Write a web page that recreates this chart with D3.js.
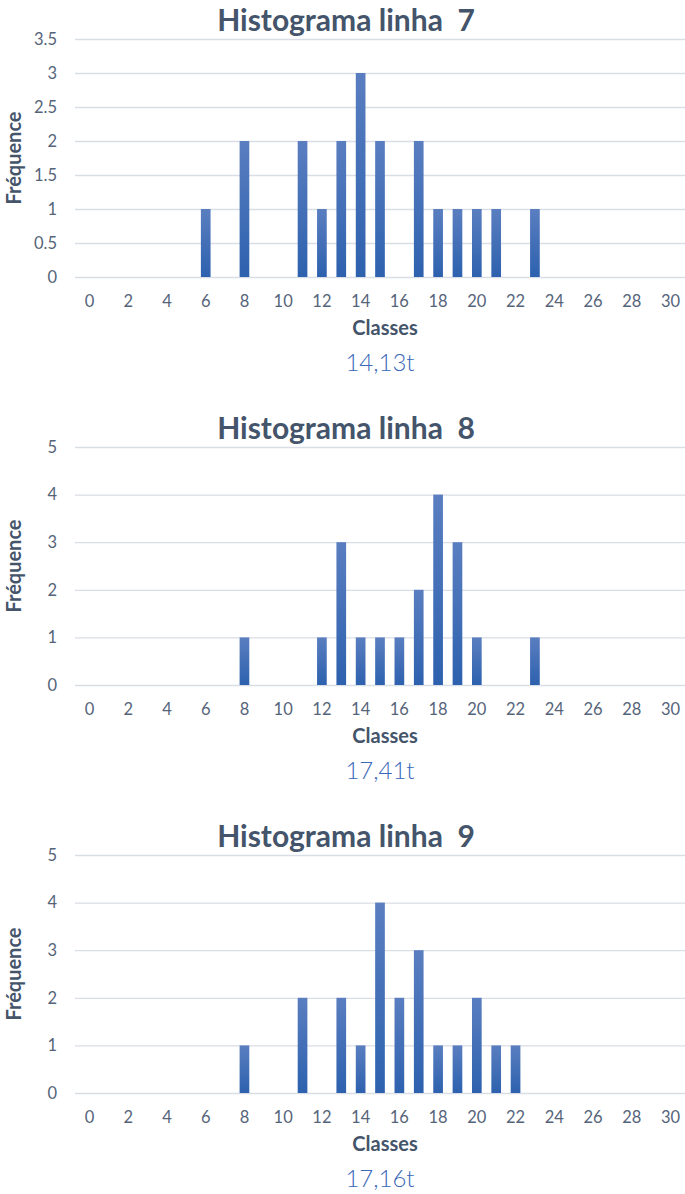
<!DOCTYPE html>
<html>
<head>
<meta charset="utf-8">
<script src="https://cdn.jsdelivr.net/npm/d3@7"></script>
<style>
  body { margin: 0; background: #fff; }
  svg { display: block; }
  text { white-space: pre; }
</style>
</head>
<body>
<svg width="685" height="1194"></svg>
<script>
const svg = d3.select("svg");

// classes 0..30
const classes = d3.range(0, 31);
const xTickLabels = d3.range(0, 31, 2);

const titles = ["Histograma linha  7", "Histograma linha  8", "Histograma linha  9"];
const means = ["14,13t", "17,41t", "17,16t"];

const freq7 = [0,0,0,0,0,0,1,0,2,0,0,2,1,2,3,2,0,2,1,1,1,1,0,1,0,0,0,0,0,0,0];
const freq8 = [0,0,0,0,0,0,0,0,1,0,0,0,1,3,1,1,1,2,4,3,1,0,0,1,0,0,0,0,0,0,0];
const freq9 = [0,0,0,0,0,0,0,0,1,0,0,2,0,2,1,4,2,3,1,1,2,1,1,0,0,0,0,0,0,0,0];

const yTicks7 = [0, 0.5, 1, 1.5, 2, 2.5, 3, 3.5];
const yTicks89 = [0, 1, 2, 3, 4, 5];

const series = [freq7, freq8, freq9];
const yTickSets = [yTicks7, yTicks89, yTicks89];

const textColor = "#44546a";
const tickColor = "#56647a";
const gridColor = "#d9dee6";

// gradient for the bars
const defs = svg.append("defs");
const grad = defs.append("linearGradient")
  .attr("id", "barGrad")
  .attr("x1", 0).attr("y1", 0).attr("x2", 0).attr("y2", 1);
grad.append("stop").attr("offset", "0%").attr("stop-color", "#5a7ec0");
grad.append("stop").attr("offset", "100%").attr("stop-color", "#2d61ae");

const x = d3.scaleBand()
  .domain(classes)
  .range([75, 685])
  .padding(0.5);

function drawChart(i, top) {
  const g = svg.append("g").attr("transform", `translate(0,${top})`);
  const values = series[i];
  const ticks = yTickSets[i];
  const plotTop = 39, plotBottom = 277;

  const y = d3.scaleLinear()
    .domain([0, d3.max(ticks)])
    .range([plotBottom, plotTop]);

  // title
  g.append("text")
    .attr("x", 346)
    .attr("y", 31)
    .attr("text-anchor", "middle")
    .attr("font-family", "Lato, sans-serif")
    .attr("font-weight", "bold")
    .attr("font-size", 30)
    .attr("fill", textColor)
    .text(titles[i]);

  // gridlines + y labels
  const yAxis = g.append("g")
    .attr("transform", "translate(75,0)")
    .call(d3.axisLeft(y).tickValues(ticks).tickSize(-610).tickPadding(18)
      .tickFormat(d => d));
  yAxis.select(".domain").remove();
  yAxis.selectAll(".tick line").attr("stroke", gridColor).attr("stroke-width", 1.3);
  yAxis.selectAll(".tick text")
    .attr("font-family", "Lato, sans-serif")
    .attr("font-size", 16.5)
    .attr("fill", tickColor);

  // bars
  g.selectAll(".bar")
    .data(classes.map((c, k) => ({ c: c, v: values[k] })).filter(d => d.v > 0))
    .enter()
    .append("rect")
    .attr("class", "bar")
    .attr("x", d => x(d.c))
    .attr("y", d => y(d.v))
    .attr("width", x.bandwidth())
    .attr("height", d => y(0) - y(d.v))
    .attr("fill", "url(#barGrad)");

  // x axis labels
  const xAxis = g.append("g")
    .attr("transform", `translate(0,${plotBottom})`)
    .call(d3.axisBottom(x).tickValues(xTickLabels).tickSize(0).tickPadding(18));
  xAxis.select(".domain").remove();
  xAxis.selectAll(".tick text")
    .attr("font-family", "Lato, sans-serif")
    .attr("font-size", 16.5)
    .attr("fill", tickColor);

  // axis titles
  g.append("text")
    .attr("x", 385)
    .attr("y", 335)
    .attr("text-anchor", "middle")
    .attr("font-family", "Lato, sans-serif")
    .attr("font-weight", "bold")
    .attr("font-size", 20)
    .attr("fill", textColor)
    .text("Classes");

  g.append("text")
    .attr("transform", `translate(21,${(plotTop + plotBottom) / 2}) rotate(-90)`)
    .attr("text-anchor", "middle")
    .attr("font-family", "Lato, sans-serif")
    .attr("font-weight", "bold")
    .attr("font-size", 20)
    .attr("fill", textColor)
    .text("Fréquence");

  // mean label
  g.append("text")
    .attr("x", 380)
    .attr("y", 371)
    .attr("text-anchor", "middle")
    .attr("font-family", "Lato, sans-serif")
    .attr("font-weight", 300)
    .attr("font-size", 24)
    .attr("fill", "#3a68b8")
    .text(means[i]);
}

drawChart(0, 0);
drawChart(1, 408);
drawChart(2, 816);
</script>
</body>
</html>
